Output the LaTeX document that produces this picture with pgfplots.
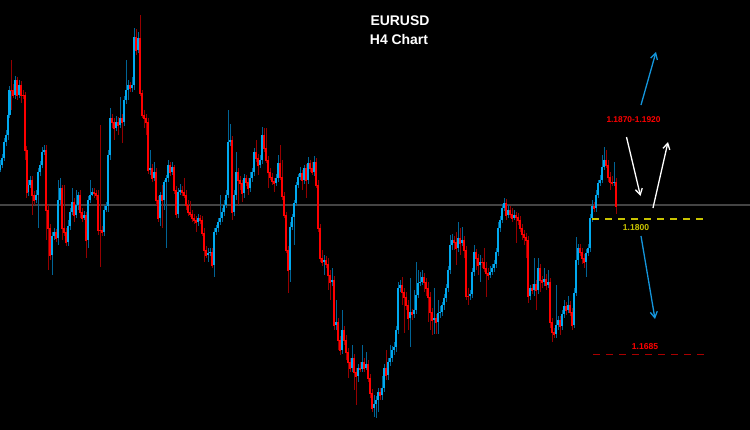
\documentclass[border=0pt]{standalone}
\usepackage{pgfplots}
\pgfplotsset{compat=1.18}
\usepackage{pgfplotstable}
\usepackage{fontspec}
\setmainfont{Liberation Sans}
\usetikzlibrary{arrows.meta}
\definecolor{upc}{RGB}{0,170,240}
\definecolor{dnc}{RGB}{255,0,0}
\definecolor{upw}{RGB}{0,100,150}
\definecolor{dnw}{RGB}{150,0,0}
\definecolor{lvl}{RGB}{200,195,0}
\definecolor{lvlred}{RGB}{170,0,0}
\definecolor{arrblue}{RGB}{20,150,220}
\definecolor{bidline}{RGB}{68,68,68}

% x = bar position, o h l c = open high low close (chart rows, top = 0)
\pgfplotstableread{
x o h l c
0 170 160 172 165
2 165 154 168 158
4 158 138 161 142
6 142 130 146 135
8 135 110 140 115
9.5 115 86 118 90
11 90 60 110 90
13 90 84 98 95
15 95 76 99 80
17 80 77 100 95
19 95 80 98 85
21 85 81 103 95
23 95 90 99 95
25 95 92 160 150
26.5 150 146 198 192
28 192 180 196 185
30 185 176 188 180
32 180 176 215 195
34 195 191 205 200
36 200 190 203 195
38 195 168 228 172
40 172 161 176 165
42 165 147 168 152
44 152 145 155 150
46 150 145 240 210
48 210 205 270 228
50 228 224 260 255
52 255 232 275 236
54 236 228 240 232
56 232 229 242 238
58 238 180 245 200
60 200 178 205 188
62 188 185 240 228
64 228 185 236 232
66 232 228 246 242
68 242 220 246 226
70 226 208 230 212
72 212 188 215 202
74 202 198 222 215
76 215 190 218 205
78 205 192 210 195
80 195 190 218 212
82 212 208 222 218
84 218 211 220 215
86 215 212 258 240
88 240 196 248 200
90 200 180 203 195
92 195 188 196 192
94 192 188 198 193
96 193 190 200 195
98 195 190 235 230
100 230 125 267 230
102 230 226 236 232
104 232 205 236 210
106 210 202 212 206
108 206 150 212 155
110 155 108 160 118
112 118 114 128 122
114 122 118 140 128
116 128 116 131 122
118 122 117 135 125
120 125 97 128 118
122 118 114 143 122
124 122 96 126 100
126 100 60 104 90
128 90 80 100 85
130 85 82 92 88
132 88 77 92 85
134 85 28 90 37
136 37 29 55 50
138 50 32 53 38
140 38 15 96 93
142 93 90 118 115
144 115 110 128 118
146 118 114 135 122
148 122 118 174 170
150 170 150 175 168
152 168 164 182 178
154 178 162 181 172
156 172 168 205 200
158 200 196 222 218
160 218 192 226 195
162 195 185 228 200
164 200 180 210 182
166 182 175 248 178
168 178 160 182 165
170 165 162 176 172
172 172 162 175 167
174 167 165 194 190
176 190 186 218 214
178 214 188 218 192
180 192 184 195 190
182 190 186 196 192
184 192 178 198 195
186 195 190 210 205
188 205 200 216 212
190 212 201 217 214
192 214 210 222 218
194 218 214 224 220
196 220 216 232 222
198 222 214 226 218
200 218 215 224 220
202 220 216 236 233
204 233 228 262 250
206 250 246 258 255
208 255 248 262 253
210 253 248 256 252
212 252 248 268 265
214 265 228 277 232
216 232 225 235 228
218 228 218 232 222
220 222 195 225 218
222 218 208 222 212
224 212 200 216 205
226 205 190 208 195
228 195 110 198 142
230 142 124 146 140
232 140 136 220 212
234 212 190 216 195
236 195 152 200 172
238 172 168 205 180
240 180 176 190 183
242 183 180 202 193
244 193 174 198 178
246 178 175 186 182
248 182 178 195 188
250 188 172 192 178
252 178 168 182 172
254 172 148 176 152
256 152 140 162 158
258 158 154 175 165
260 165 155 168 160
262 160 127 164 135
264 135 128 152 148
266 148 128 163 160
268 160 156 188 172
270 172 168 180 177
272 177 173 185 181
274 181 178 192 183
276 183 174 186 178
278 178 155 182 163
280 163 145 180 177
282 177 160 200 196
284 196 192 218 215
286 215 212 253 250
288 250 246 293 270
290 270 222 282 227
292 227 214 230 217
294 217 200 245 203
296 203 182 206 185
298 185 174 188 177
300 177 167 180 173
302 173 170 190 180
304 180 165 184 168
306 168 164 198 180
308 180 157 184 163
310 163 160 172 168
312 168 162 175 172
314 172 156 176 162
316 162 158 188 185
318 185 180 232 228
320 228 224 262 258
322 258 250 266 262
324 262 255 275 260
326 260 256 268 264
328 264 258 290 275
330 275 270 300 282
332 282 268 286 280
334 280 276 330 325
336 325 300 330 322
338 322 318 350 340
340 340 336 355 350
342 350 310 354 330
344 330 326 345 340
346 340 335 360 352
348 352 348 378 362
350 362 358 372 368
352 368 345 372 358
354 358 354 390 372
356 372 368 405 376
358 376 364 382 368
360 368 362 372 369
362 369 345 372 362
364 362 358 372 368
366 368 352 370 364
368 364 360 382 378
370 378 374 398 393
372 393 389 412 408
374 408 395 417 404
376 404 396 418 400
378 400 388 412 392
380 392 388 400 395
382 395 376 400 388
384 388 364 392 368
386 368 350 380 375
388 375 358 380 362
390 362 345 366 358
392 358 346 362 350
394 350 342 355 347
396 347 326 352 330
398 330 282 334 288
400 288 280 292 285
402 285 277 305 292
404 292 288 333 297
406 297 292 310 305
408 305 300 330 318
410 318 278 347 312
412 312 309 320 314
414 314 290 318 310
416 310 262 314 295
418 295 270 298 283
420 283 272 286 282
422 282 270 285 277
424 277 273 292 282
426 282 278 296 288
428 288 282 322 297
430 297 292 330 312
432 312 308 335 320
434 320 288 334 318
436 318 314 334 322
438 322 300 334 313
440 313 306 318 312
442 312 302 316 305
444 305 294 310 298
446 298 284 302 288
448 288 266 292 270
450 270 235 274 245
452 245 234 250 240
454 240 236 250 242
456 242 232 265 248
458 248 222 252 238
460 238 228 255 243
462 243 227 246 240
464 240 236 258 250
466 250 246 300 296
468 296 288 305 296
470 296 290 300 294
472 294 268 298 272
474 272 245 276 252
476 252 249 270 258
478 258 254 275 265
480 265 255 282 262
482 262 258 268 262
484 262 248 272 268
486 268 262 297 273
488 273 268 280 275
490 275 266 278 272
492 272 264 275 268
494 268 260 272 264
496 264 248 268 252
498 252 222 256 228
500 228 216 232 220
502 220 204 223 208
504 208 198 211 203
506 203 199 220 215
508 215 205 218 210
510 210 206 218 214
512 214 208 222 218
514 218 210 220 215
516 215 212 243 217
518 217 213 225 220
520 220 216 232 228
522 228 224 240 234
524 234 230 245 237
526 237 233 258 240
528 240 236 303 296
530 296 285 300 288
532 288 284 294 290
534 290 258 296 284
536 284 280 310 290
538 290 258 294 268
540 268 264 292 280
542 280 276 288 282
544 282 268 286 279
546 279 274 290 285
548 285 270 288 282
550 282 278 328 322
552 322 318 342 332
554 332 328 338 334
556 334 285 338 325
558 325 316 330 320
560 320 316 335 326
562 326 310 330 314
564 314 300 318 306
566 306 302 315 310
568 310 296 313 305
570 305 301 316 312
572 312 308 330 325
574 325 288 328 293
576 293 237 296 260
578 260 244 265 248
580 248 244 256 252
582 252 248 264 258
584 258 254 268 262
586 262 249 277 253
588 253 244 256 248
590 248 214 252 218
592 218 200 222 206
594 206 202 212 208
596 208 190 212 195
598 195 180 198 183
600 183 175 186 180
602 180 155 183 167
604 167 147 170 160
606 160 150 168 165
608 165 160 182 177
610 177 172 190 182
612 182 176 186 183
614 183 162 186 182
616 182 178 214 206
}\candles

\begin{document}
\begin{tikzpicture}
\fill[black] (0,0) rectangle (750bp,430bp);
\begin{axis}[
  at={(0,0)}, anchor=south west,
  scale only axis, width=750bp, height=430bp,
  xmin=0, xmax=750, ymin=0, ymax=430, y dir=reverse,
  hide axis, clip=true,
]
% bid line
\addplot[bidline, line width=1.8bp, forget plot] coordinates {(0,205) (750,205)};
% wicks (candles of the other colour are shifted out of range and dropped)
\addplot[draw=none, mark=none, forget plot, restrict y to domain=-100:600,
  error bars/.cd, y dir=plus, y explicit, error mark=none,
  error bar style={line width=0.9bp, draw=upw}]
  table[x=x, y expr={\thisrow{h}+2000*(\thisrow{c}>=\thisrow{o})}, y error expr={\thisrow{l}-\thisrow{h}}] {\candles};
\addplot[draw=none, mark=none, forget plot, restrict y to domain=-100:600,
  error bars/.cd, y dir=plus, y explicit, error mark=none,
  error bar style={line width=0.9bp, draw=dnw}]
  table[x=x, y expr={\thisrow{h}+2000*(\thisrow{c}<\thisrow{o})}, y error expr={\thisrow{l}-\thisrow{h}}] {\candles};
% bodies
\addplot[draw=none, mark=none, forget plot, restrict y to domain=-100:600,
  error bars/.cd, y dir=plus, y explicit, error mark=none,
  error bar style={line width=2.0bp, draw=upc}]
  table[x=x, y expr={\thisrow{c}+2000*(\thisrow{c}>=\thisrow{o})}, y error expr={\thisrow{o}-\thisrow{c}}] {\candles};
\addplot[draw=none, mark=none, forget plot, restrict y to domain=-100:600,
  error bars/.cd, y dir=plus, y explicit, error mark=none,
  error bar style={line width=2.0bp, draw=dnc}]
  table[x=x, y expr={\thisrow{o}+2000*(\thisrow{c}<\thisrow{o})}, y error expr={\thisrow{c}-\thisrow{o}+0.8}] {\candles};
% levels
\addplot[lvl, line width=1.1bp, dash pattern=on 7bp off 6bp, forget plot] coordinates {(592,219) (706,219)};
\addplot[lvlred, line width=1.1bp, dash pattern=on 7bp off 6bp, forget plot] coordinates {(593,354.5) (704,354.5)};
% arrows
\draw[white, line width=1.3bp, -{Straight Barb[length=6bp,width=7bp]}] (axis cs:626.5,137) -- (axis cs:640.5,196);
\draw[white, line width=1.3bp, -{Straight Barb[length=6bp,width=7bp]}] (axis cs:653,208) -- (axis cs:668,142);
\draw[arrblue, line width=1.3bp, -{Straight Barb[length=6bp,width=7bp]}] (axis cs:641,105) -- (axis cs:656,52);
\draw[arrblue, line width=1.3bp, -{Straight Barb[length=6bp,width=7bp]}] (axis cs:641,236) -- (axis cs:655,319);
% text
\node[text=white, font=\bfseries\fontsize{14}{16}\selectfont] at (axis cs:400,21) {EURUSD};
\node[text=white, font=\bfseries\fontsize{14}{16}\selectfont] at (axis cs:399,39.5) {H4 Chart};
\node[text=dnc, font=\bfseries\fontsize{8.4}{10}\selectfont] at (axis cs:633.5,120) {1.1870-1.1920};
\node[text=lvl, font=\bfseries\fontsize{8.6}{10}\selectfont] at (axis cs:636,227.5) {1.1800};
\node[text=dnc, font=\bfseries\fontsize{8.6}{10}\selectfont] at (axis cs:645,346.5) {1.1685};
\end{axis}
\end{tikzpicture}
\end{document}
